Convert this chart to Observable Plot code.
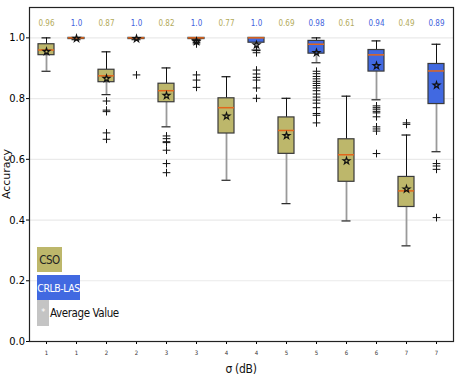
<!DOCTYPE html>
<html>
<head>
<meta charset="utf-8">
<script src="https://cdn.jsdelivr.net/npm/d3@7"></script>
<script src="https://cdn.jsdelivr.net/npm/@observablehq/plot@0.6"></script>
<style>
  body { margin: 0; background: #fff; }
  #wrap { position: relative; width: 457px; height: 388px; font-family: 'Liberation Sans Narrow','DejaVu Sans Condensed','Liberation Sans',sans-serif; }
  #wrap svg { font-family: 'Liberation Sans Narrow','DejaVu Sans Condensed','Liberation Sans',sans-serif; }
  .leg { position: absolute; box-sizing: border-box; display: flex; align-items: center; font-size: 11.5px; letter-spacing: -0.4px; white-space: nowrap; }
  .ylab { position: absolute; font-family: 'DejaVu Sans', sans-serif; font-size: 11px; color: #111; transform: translate(-50%, -50%) rotate(-90deg); white-space: nowrap; }
  .xlab { position: absolute; font-size: 12px; color: #111; transform: translate(-50%, -50%); white-space: nowrap; letter-spacing: -0.3px; }
</style>
</head>
<body>
<div id="wrap"></div>
<script>
// ---- data ----
const sigmaLabels = ["1","1","2","2","3","3","4","4","5","5","6","6","7","7"];
const methods = ["CSO","CRLB-LAS","CSO","CRLB-LAS","CSO","CRLB-LAS","CSO","CRLB-LAS","CSO","CRLB-LAS","CSO","CRLB-LAS","CSO","CRLB-LAS"];
const medianLabels = ["0.96","1.0","0.87","1.0","0.82","1.0","0.77","1.0","0.69","0.98","0.61","0.94","0.49","0.89"];
const whiskerHigh = [1.0, 1.0, 0.954, 1.0, 0.901, 1.0, 0.872, 1.0, 0.801, 1.0, 0.808, 0.99, 0.68, 0.979];
const q3 = [0.979, 1.0, 0.895, 1.0, 0.849, 1.0, 0.801, 1.0, 0.738, 0.99, 0.666, 0.96, 0.542, 0.914];
const medians = [0.96, 1.0, 0.875, 1.0, 0.826, 1.0, 0.77, 1.0, 0.695, 0.979, 0.615, 0.944, 0.496, 0.891];
const q1 = [0.943, 0.996, 0.854, 0.996, 0.788, 0.996, 0.685, 0.984, 0.618, 0.948, 0.526, 0.889, 0.443, 0.782];
const whiskerLow = [0.89, 0.994, 0.813, 0.994, 0.707, 0.994, 0.531, 0.96, 0.454, 0.918, 0.397, 0.796, 0.315, 0.625];
const means = [0.955, 0.998, 0.866, 0.997, 0.81, 0.988, 0.742, 0.977, 0.678, 0.951, 0.595, 0.908, 0.502, 0.844];
const outliers = [
  [],
  [],
  [0.792, 0.762, 0.757, 0.687, 0.666],
  [0.878],
  [0.677, 0.668, 0.658, 0.655, 0.630, 0.586, 0.556],
  [0.99, 0.985, 0.98, 0.878, 0.861, 0.837],
  [],
  [0.958, 0.951, 0.894, 0.881, 0.870, 0.861, 0.835, 0.801],
  [],
  [0.89, 0.882, 0.873, 0.865, 0.857, 0.85, 0.843, 0.835, 0.826, 0.815, 0.805, 0.795, 0.785, 0.77, 0.751, 0.745, 0.72],
  [],
  [0.776, 0.77, 0.765, 0.758, 0.753, 0.740, 0.707, 0.70, 0.693, 0.619],
  [0.72, 0.715],
  [0.586, 0.578, 0.567, 0.408]
];
const yTicks = [0, 0.2, 0.4, 0.6, 0.8, 1.0];

const fillColor = {"CSO": "#bdb76b", "CRLB-LAS": "#4169e1"};
const textColor = {"CSO": "#b3ab5a", "CRLB-LAS": "#3f63dc"};

const idx = sigmaLabels.map((_, i) => String(i));
const rows = idx.map((k, i) => ({
  k, method: methods[i], label: medianLabels[i],
  hi: whiskerHigh[i], q3: q3[i], med: medians[i], q1: q1[i], lo: whiskerLow[i], mean: means[i]
}));
const outRows = outliers.flatMap((arr, i) => arr.map(v => ({k: idx[i], v})));

const chart = Plot.plot({
  width: 457,
  height: 388,
  marginLeft: 29,
  marginRight: 4,
  marginTop: 7,
  marginBottom: 47,
  style: {fontSize: "11px", background: "#fff"},
  x: {type: "band", domain: idx, paddingInner: 0.474, paddingOuter: 0.197},
  y: {domain: [0, 1.1]},
  color: {type: "identity"},
  marks: [
    Plot.gridY(yTicks, {stroke: "#d8d8d8", strokeOpacity: 0.55, strokeWidth: 1.2}),
    Plot.axisY({ticks: yTicks, tickFormat: d3.format(".1f"), fontSize: 11, tickSize: 3, tickPadding: 1.5, label: null}),
    Plot.axisX({fontSize: 6, tickSize: 3, tickFormat: d => sigmaLabels[+d], label: null, fill: "#333"}),
    Plot.ruleX(rows, {x: "k", y1: "q3", y2: "hi", stroke: "#111", strokeWidth: 1}),
    Plot.ruleX(rows, {x: "k", y1: "lo", y2: "q1", stroke: "#9a9a9a", strokeWidth: 1.8}),
    Plot.tickY(rows, {x: "k", y: "hi", stroke: "#111", strokeWidth: 1.2, insetLeft: 3.5, insetRight: 3.5}),
    Plot.tickY(rows, {x: "k", y: "lo", stroke: "#222", strokeWidth: 1.2, insetLeft: 3.5, insetRight: 3.5}),
    Plot.barY(rows, {x: "k", y1: "q1", y2: "q3", fill: d => fillColor[d.method], stroke: "#3a3a3a", strokeWidth: 1.2}),
    Plot.tickY(rows, {x: "k", y: "med", stroke: "#e2661c", strokeWidth: 1.5}),
    Plot.dot(outRows, {x: "k", y: "v", symbol: "plus", r: 2.6, stroke: "#111", strokeWidth: 1}),
    Plot.dot(rows, {x: "k", y: "mean", symbol: "star", r: 2.1, fill: "none", stroke: "#111", strokeWidth: 1.2}),
    Plot.text(rows, {x: "k", text: "label", frameAnchor: "top", dy: 13, fontSize: 8, fill: d => textColor[d.method]}),
    Plot.frame({stroke: "#222", strokeWidth: 1.2})
  ]
});

const wrap = document.getElementById("wrap");
wrap.appendChild(chart);

function addDiv(cls, text, style) {
  const d = document.createElement("div");
  d.className = cls;
  d.textContent = text;
  Object.assign(d.style, style);
  wrap.appendChild(d);
  return d;
}
// legend (drawn over the plot area, like the reference)
addDiv("leg", "CSO", {left: "37px", top: "247px", width: "25px", height: "25px", background: "#bdb76b", color: "#222", justifyContent: "center"});
addDiv("leg", "CRLB-LAS", {left: "37px", top: "275px", width: "43px", height: "25px", background: "#4169e1", color: "#fff", justifyContent: "center", fontSize: "10.5px", letterSpacing: "-0.5px"});
addDiv("leg", "*", {left: "37px", top: "300px", width: "12px", height: "26px", background: "#c4c4c4", color: "#fff", justifyContent: "center", alignItems: "flex-start", paddingTop: "7px", fontSize: "9px"});
addDiv("leg", "Average Value", {left: "50px", top: "300px", height: "26px", color: "#111"});
// axis titles
addDiv("ylab", "Accuracy", {left: "6px", top: "174px"});
addDiv("xlab", "σ (dB)", {left: "241px", top: "369px"});
</script>
</body>
</html>
